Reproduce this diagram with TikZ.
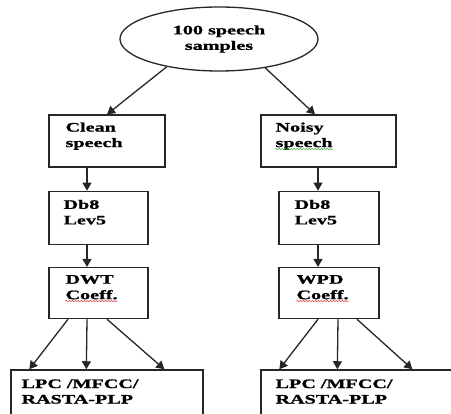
\documentclass[tikz,border=0pt]{standalone}
\usepackage{fontspec}
\setmainfont{Liberation Serif}
\newfontfamily\flowfont[FakeStretch=1.55, FakeBold=1.2]{Liberation Serif}
\usetikzlibrary{arrows.meta,positioning,shapes.geometric,calc,decorations.pathmorphing}
\definecolor{spellred}{HTML}{E03030}
\definecolor{spellgreen}{HTML}{30B030}

\begin{document}
\begin{tikzpicture}[
    x=1pt, y=-1pt,
    box/.style={rectangle, draw=black!85, line width=1.3pt, inner sep=0pt},
    oval/.style={ellipse, draw=black!85, line width=1.3pt, inner sep=0pt,
                 minimum width=198pt, minimum height=64pt, align=center,
                 font=\flowfont\bfseries\fontsize{13}{15.5}\selectfont},
    txt/.style={inner sep=0pt, align=left,
                font=\flowfont\bfseries\fontsize{13}{15.5}\selectfont},
    arr/.style={-{Triangle[length=8pt,width=9pt]}, line width=1.3pt, black!85},
    squig/.style={decorate, decoration={snake, amplitude=0.6pt, segment length=3pt},
                  line width=0.5pt, #1}
]
\useasboundingbox (0,0) rectangle (451,414);
\clip (0,0) rectangle (451,414);

% top
\node[oval] (samples) at (219,39) {100 speech\\samples};

% left branch
\node[box, minimum width=116pt, minimum height=52pt] (clean) at (107,141) {};
\node[box, minimum width=99pt, minimum height=53pt, below right=23pt and 0pt of clean.south west] (dbl) {};
\node[box, minimum width=99pt, minimum height=51pt, below right=22pt and 0pt of dbl.south west] (dwt) {};
\node[box, minimum width=192pt, minimum height=80pt, below right=50pt and -38pt of dwt.south west] (lpcl) {};

% right branch
\node[box, minimum width=135pt, minimum height=52pt] (noisy) at (328.5,141) {};
\node[box, minimum width=100pt, minimum height=53pt, below right=23pt and 18pt of noisy.south west] (dbr) {};
\node[box, minimum width=100pt, minimum height=51pt, below right=22pt and 0pt of dbr.south west] (wpd) {};
\node[box, minimum width=200pt, minimum height=80pt, below right=50pt and -18pt of wpd.south west] (lpcr) {};

% texts
\node[txt, below right=8pt and 17pt of clean.north west] (cleantxt) {Clean\\speech};
\node[txt, below right=9pt and 15pt of dbl.north west] (dbltxt) {Db8\\Lev5};
\node[txt, below right=8pt and 17pt of dwt.north west] (dwttxt) {DWT\\Coeff.};
\node[txt, below right=10pt and 11pt of lpcl.north west] (lpcltxt) {LPC /MFCC/\\RASTA-PLP};
\node[txt, below right=8pt and 15pt of noisy.north west] (noisytxt) {Noisy\\speech};
\node[txt, below right=9pt and 16pt of dbr.north west] (dbrtxt) {Db8\\Lev5};
\node[txt, below right=8pt and 18pt of wpd.north west] (wpdtxt) {WPD\\Coeff.};
\node[txt, below right=10pt and 15pt of lpcr.north west] (lpcrtxt) {LPC /MFCC/\\RASTA-PLP};

% spell-check marks
\draw[squig=spellgreen] ([yshift=1pt]noisytxt.south west) -- ([yshift=1pt]noisytxt.south east);
\draw[squig=spellred] ([yshift=-1.5pt]dwttxt.south west) -- ([yshift=-1.5pt]dwttxt.south east);
\draw[squig=spellred] ([yshift=-1.5pt]wpdtxt.south west) -- ([yshift=-1.5pt]wpdtxt.south east);

% arrows
\draw[arr] (samples.208) -- (clean.north);
\draw[arr] (samples.328) -- ([xshift=-13.5pt]noisy.north);
\draw[arr] ([xshift=-20pt]clean.south) -- ([xshift=-20pt]clean.south |- dbl.north);
\draw[arr] ([xshift=-11.5pt]dbl.south) -- ([xshift=-11.5pt]dbl.south |- dwt.north);
\draw[arr] ([xshift=-10.5pt]noisy.south) -- ([xshift=-10.5pt]noisy.south |- dbr.north);
\draw[arr] ([xshift=-11pt]dbr.south) -- ([xshift=-11pt]dbr.south |- wpd.north);
\foreach \s/\e in {-30.5/19, -11.5/76, 8.5/154}
  \draw[arr] ([xshift=\s pt]dwt.south) -- ([xshift=\e pt]lpcl.north west);
\foreach \s/\e in {-11/19, 9/77, 28/152}
  \draw[arr] ([xshift=\s pt]wpd.south) -- ([xshift=\e pt]lpcr.north west);
\end{tikzpicture}
\end{document}
